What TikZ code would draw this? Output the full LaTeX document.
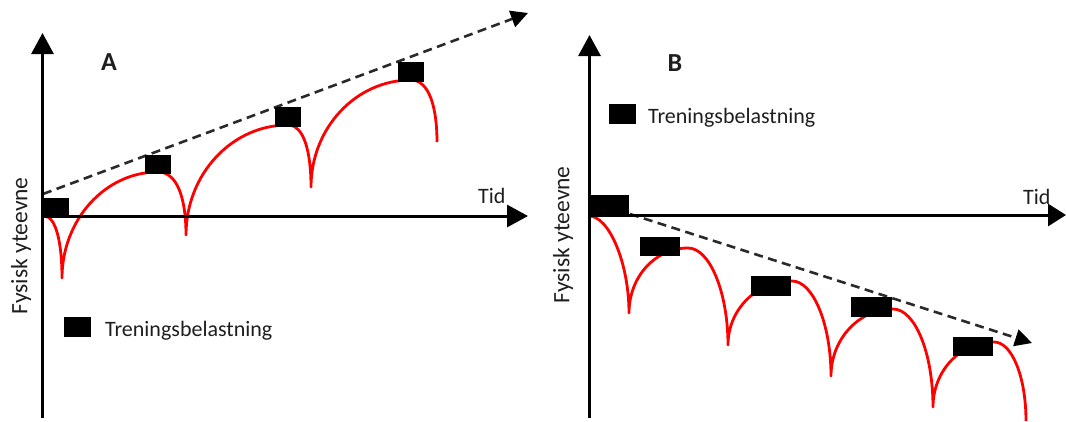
\documentclass[tikz,border=0pt]{standalone}
\usepackage{fontspec}
\setmainfont{Carlito}
\usetikzlibrary{arrows.meta}
\definecolor{curvered}{HTML}{FF0000}
\definecolor{dashgray}{HTML}{2A2A2A}
\definecolor{txt}{HTML}{1E1E1E}
\begin{document}
\begin{tikzpicture}[x=1pt,y=-1pt,
  axisline/.style={line width=3pt,-{Triangle[length=21pt,width=22pt]}},
  trend/.style={dashgray,line width=2.6pt,dash pattern=on 9pt off 5.5pt,-{Triangle[length=17pt,width=17pt,color=black]}},
  perf/.style={curvered,line width=2.8pt,line join=round},
  loadA/.style={fill=black,draw=none,minimum width=26pt,minimum height=19.5pt,inner sep=0pt},
  loadB/.style={fill=black,draw=none,minimum width=40.5pt,minimum height=19.5pt,inner sep=0pt},
  lbl/.style={txt,font=\fontsize{22}{26}\selectfont,inner sep=0pt},
  ylbl/.style={txt,font=\fontsize{23.5}{28}\selectfont,inner sep=0pt,rotate=90},
  panel/.style={txt,font=\fontsize{26}{30}\selectfont\bfseries,inner sep=0pt}
]
\useasboundingbox (0,0) rectangle (1066,421);

% ---------------- Panel A ----------------
\coordinate (Ay0) at (42.5,418);
\coordinate (Ay1) at (42.5,33);
\coordinate (Ax0) at (41,216);
\coordinate (Ax1) at (528,216);
\coordinate (At0) at (43,194);
\coordinate (At1) at (528,13);

\draw[perf] (44,216) .. controls +(12,0) and +(0,-35) .. (62,278)
  .. controls +(0,-58) and +(-53,0) .. (158,172)
  .. controls +(20,0) and +(0,-35) .. (186,235)
  .. controls +(0,-61) and +(-56,0) .. (288,125)
  .. controls +(16,0) and +(0,-35) .. (311,187)
  .. controls +(0,-59) and +(-55,0) .. (411,80)
  .. controls +(18,0) and +(0,-35) .. (437,142);

\draw[trend] (At0) -- (At1);
\draw[axisline] (Ay0) -- (Ay1);
\draw[axisline] (Ax0) -- (Ax1);

\node[loadA] (a1) at (56,208) {};
\node[loadA] (a2) at (158,164.5) {};
\node[loadA] (a3) at (287.5,117) {};
\node[loadA] (a4) at (410.5,72) {};

\node[panel,anchor=base] (labA) at (109,70) {A};
\node[lbl,anchor=base west] (tidA) at (478,203) {Tid};
\node[ylbl] (yA) at (21,246) {Fysisk yteevne};
\node[loadA,minimum width=27pt,minimum height=20pt] (legA) at (77,327) {};
\node[lbl,anchor=base west] (legtxtA) at (105,336) {Treningsbelastning};

% ---------------- Panel B ----------------
\coordinate (By0) at (589.5,418);
\coordinate (By1) at (589.5,35);
\coordinate (Bx0) at (588,215);
\coordinate (Bx1) at (1066,215);
\coordinate (Bt0) at (630,214);
\coordinate (Bt1) at (1032,343);

\draw[perf] (589,216) .. controls +(20,0) and +(0,-50) .. (629,313)
  .. controls +(0,-36) and +(-33,0) .. (688,248)
  .. controls +(22,0) and +(0,-52) .. (728,345)
  .. controls +(0,-36) and +(-35,0) .. (792,281)
  .. controls +(21,0) and +(0,-52) .. (831,376)
  .. controls +(0,-37) and +(-34,0) .. (893,309)
  .. controls +(22,0) and +(0,-54) .. (933,407)
  .. controls +(0,-36) and +(-34,0) .. (994,342)
  .. controls +(18,0) and +(0,-44) .. (1026,421);

\draw[trend] (Bt0) -- (Bt1);
\draw[axisline] (By0) -- (By1);
\draw[axisline,-{Triangle[length=18pt,width=22pt]}] (Bx0) -- (Bx1);

\node[loadB] (b1) at (608.5,205) {};
\node[loadB] (b2) at (660,246.5) {};
\node[loadB] (b3) at (771,286) {};
\node[loadB] (b4) at (871.5,307) {};
\node[loadB] (b5) at (973,346.5) {};

\node[panel,anchor=base] (labB) at (675,71) {B};
\node[lbl,anchor=base west] (tidB) at (1023,204) {Tid};
\node[ylbl] (yB) at (563,235) {Fysisk yteevne};
\node[loadA,minimum width=27pt,minimum height=20pt] (legB) at (622,114) {};
\node[lbl,anchor=base west] (legtxtB) at (648,123) {Treningsbelastning};
\end{tikzpicture}
\end{document}
